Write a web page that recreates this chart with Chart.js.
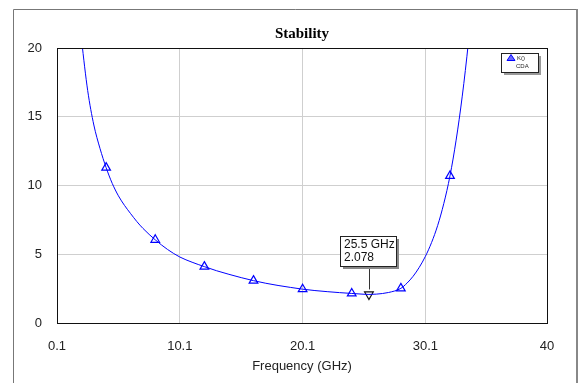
<!DOCTYPE html>
<html>
<head>
<meta charset="utf-8">
<script src="https://cdn.jsdelivr.net/npm/chart.js@4"></script>
<style>
    html, body { margin: 0; padding: 0; background: #fff; }
    #wrap { width: 582px; height: 383px; position: relative; }
</style>
</head>
<body>
<div id="wrap"><canvas id="stabChart"></canvas></div>
<script>
// === ДАННЫЕ ===
const chartTitle = 'Stability';
const xTitle = 'Frequency (GHz)';
const xTicks = [0.1, 10.1, 20.1, 30.1, 40];
const yTicks = [0, 5, 10, 15, 20];

// кривая K()
const freqGHz = [1.6, 2.1, 2.6, 3.1, 3.6, 4.1, 4.6, 5.1, 5.6, 6.1, 6.6, 7.1, 8.1, 9.1, 10.1, 11.1, 12.1, 13.1, 14.1, 15.1,
    16.1, 17.1, 18.1, 19.1, 20.1, 21.1, 22.1, 23.1, 24.1, 25.1, 25.5, 26.1, 27.1, 28.1, 28.6, 29.1, 29.6,
    30.1, 30.6, 31.1, 31.6, 32.1, 32.6, 33.1, 33.6, 34.1];
const kValues = [25, 20.6, 16.9, 14.4, 12.7, 11.3, 10.15, 9.25, 8.55, 7.95, 7.38, 6.88, 6.05, 5.35, 4.8, 4.42, 4.1, 3.8, 3.54, 3.3,
    3.08, 2.89, 2.73, 2.59, 2.46, 2.36, 2.28, 2.21, 2.15, 2.09, 2.078, 2.1, 2.22, 2.52, 2.9, 3.4, 4.05,
    4.85, 5.85, 7.1, 8.7, 10.7, 13.3, 16.5, 20.4, 25];

// маркеры-треугольники
const markerFreq = [4.1, 8.1, 12.1, 16.1, 20.1, 24.1, 28.1, 32.1];
const markerK = [11.3, 6.05, 4.1, 3.08, 2.46, 2.15, 2.52, 10.7];

// маркер-выноска
const noteFreq = [25.5];
const noteK = [2.078];
const noteText = ['25.5 GHz', '2.078'];

const legendName = ['K()', 'CDA'];

const BLUE = '#0000ff';
const FONT = '"Liberation Sans", Arial, sans-serif';

// === РАМКИ, ЗАГОЛОВОК, ЛЕГЕНДА, ВЫНОСКА ===
const decorPlugin = {
    id: 'decor',
    beforeDraw(chart) {
        const c = chart.ctx;
        c.save();
        // внешняя рамка
        c.strokeStyle = '#777';
        c.lineWidth = 1;
        c.beginPath();
        c.moveTo(13.5, 383);
        c.lineTo(13.5, 9.5);
        c.lineTo(577, 9.5);
        c.stroke();
        c.strokeStyle = '#888';
        c.lineWidth = 2;
        c.beginPath();
        c.moveTo(577, 9);
        c.lineTo(577, 383);
        c.stroke();
        c.restore();
    },
    afterDatasetsDraw(chart) {
        const c = chart.ctx;
        const a = chart.chartArea;
        c.save();
        // рамка графика
        c.strokeStyle = '#111';
        c.lineWidth = 1;
        c.strokeRect(Math.round(a.left) + 0.5, Math.round(a.top) + 0.5,
            Math.round(a.right - a.left), Math.round(a.bottom - a.top));

        // заголовок
        c.fillStyle = '#000';
        c.font = 'bold 15px "Liberation Serif", "Times New Roman", serif';
        c.textAlign = 'center';
        c.textBaseline = 'middle';
        c.fillText(chartTitle, (a.left + a.right) / 2, 34);

        // легенда
        const lx = a.right - 46, ly = a.top + 5, lw = 37, lh = 19;
        c.fillStyle = '#999';
        c.fillRect(lx + 3, ly + 3, lw, lh);
        c.fillStyle = '#fff';
        c.fillRect(lx, ly, lw, lh);
        c.strokeStyle = '#222';
        c.strokeRect(lx + 0.5, ly + 0.5, lw, lh);
        c.fillStyle = '#6a6aff';
        c.strokeStyle = BLUE;
        c.beginPath();
        c.moveTo(lx + 10, ly + 1.5);
        c.lineTo(lx + 14, ly + 7.5);
        c.lineTo(lx + 6, ly + 7.5);
        c.closePath();
        c.fill();
        c.stroke();
        c.fillStyle = '#222';
        c.font = '6px ' + FONT;
        c.textAlign = 'left';
        c.fillText(legendName[0], lx + 16, ly + 5);
        c.fillText(legendName[1], lx + 15, ly + 13.5);

        // выноска
        const px = chart.scales.x.getPixelForValue(noteFreq[0]);
        const py = chart.scales.y.getPixelForValue(noteK[0]);
        const bx = Math.round(px) - 29, by = Math.round(py) - 58, bw = 56, bh = 30;
        c.strokeStyle = '#333';
        c.beginPath();
        c.moveTo(Math.round(px) + 0.5, by + bh);
        c.lineTo(Math.round(px) + 0.5, py - 5);
        c.stroke();
        c.fillStyle = '#888';
        c.fillRect(bx + 3, by + 3, bw, bh);
        c.fillStyle = '#fff';
        c.fillRect(bx, by, bw, bh);
        c.strokeStyle = '#222';
        c.strokeRect(bx + 0.5, by + 0.5, bw, bh);
        c.fillStyle = '#111';
        c.font = '12px ' + FONT;
        c.textAlign = 'left';
        c.fillText(noteText[0], bx + 4, by + 9);
        c.fillText(noteText[1], bx + 4, by + 22);
        c.restore();
    }
};

// === ГРАФИК ===
function buildChart() {
    const ctx = document.getElementById('stabChart').getContext('2d');
    const edge = ctx2 => (ctx2.tick && (ctx2.index === 0 || ctx2.index === ctx2.scale.ticks.length - 1)) ? 'rgba(0,0,0,0)' : '#cfcfcf';

    return new Chart(ctx, {
        type: 'scatter',
        data: {
            datasets: [{
                label: 'K()',
                data: freqGHz.map((f, i) => ({ x: f, y: kValues[i] })),
                showLine: true,
                borderColor: BLUE,
                borderWidth: 1,
                pointRadius: 0,
                cubicInterpolationMode: 'monotone'
            }, {
                label: 'markers',
                data: markerFreq.map((f, i) => ({ x: f, y: markerK[i] })),
                showLine: false,
                pointStyle: 'triangle',
                pointRadius: 5,
                borderColor: BLUE,
                borderWidth: 1.2,
                backgroundColor: 'rgba(0,0,0,0)'
            }, {
                label: 'note',
                data: noteFreq.map((f, i) => ({ x: f, y: noteK[i] })),
                showLine: false,
                pointStyle: 'triangle',
                rotation: 180,
                pointRadius: 5,
                borderColor: '#111',
                borderWidth: 1.2,
                backgroundColor: 'rgba(0,0,0,0)'
            }]
        },
        options: {
            responsive: true,
            maintainAspectRatio: false,
            animation: false,
            layout: { padding: { top: 48, right: 35, left: 0, bottom: 0 } },
            plugins: {
                legend: { display: false },
                tooltip: { enabled: false },
                title: { display: false }
            },
            scales: {
                x: {
                    type: 'linear',
                    min: xTicks[0],
                    max: xTicks[xTicks.length - 1],
                    afterBuildTicks: s => { s.ticks = xTicks.map(v => ({ value: v })); },
                    afterFit: s => { s.height = 60; },
                    grid: { color: edge, drawTicks: false },
                    border: { display: false },
                    ticks: {
                        padding: 16,
                        color: '#222',
                        font: { family: FONT, size: 13 },
                        maxRotation: 0,
                        callback: v => String(v)
                    },
                    title: {
                        display: true,
                        text: xTitle,
                        color: '#222',
                        font: { family: FONT, size: 13 },
                        padding: { top: 0, bottom: 9 }
                    }
                },
                y: {
                    min: yTicks[0],
                    max: yTicks[yTicks.length - 1],
                    afterBuildTicks: s => { s.ticks = yTicks.map(v => ({ value: v })); },
                    afterFit: s => { s.width = 57; },
                    grid: { color: edge, drawTicks: false },
                    border: { display: false },
                    ticks: {
                        padding: 15,
                        color: '#222',
                        font: { family: FONT, size: 13 }
                    }
                }
            }
        },
        plugins: [decorPlugin]
    });
}

document.addEventListener('DOMContentLoaded', buildChart);
</script>
</body>
</html>
